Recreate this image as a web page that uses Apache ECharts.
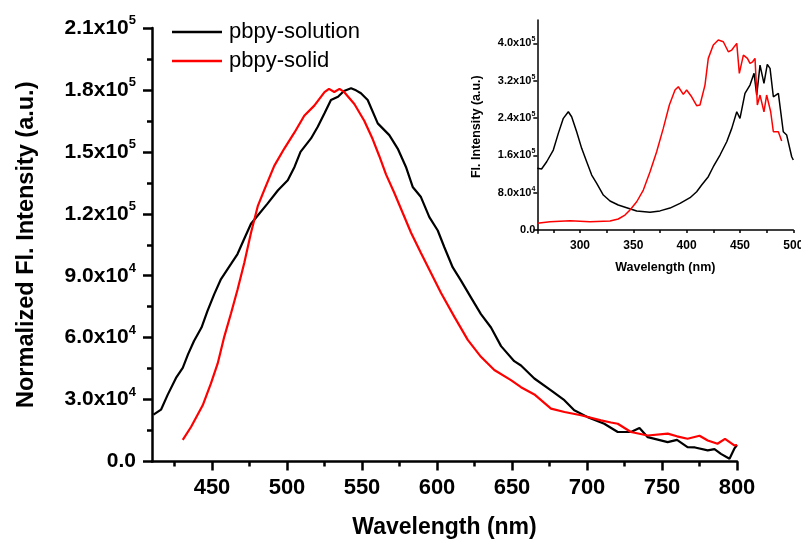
<!DOCTYPE html>
<html>
<head>
<meta charset="utf-8">
<script src="https://cdn.jsdelivr.net/npm/echarts@6/dist/echarts.min.js"></script>
<style>
html,body{margin:0;padding:0;background:#fff;}
#chart{width:801px;height:539px;}
</style>
</head>
<body>
<div id="chart"></div>
<script>
// ---- Main chart data (wavelength nm, normalized Fl. intensity) ----
const solutionWl = [411,416,420.5,426,430.5,434,438,443,447,451.5,456,462.7,467,471.5,476,480.5,487,494,500.5,505,509,516,520.5,525,529.3,534,538,542.7,546,549.3,553.8,560.5,568.2,573.8,579.3,583.8,589.3,594.9,600.5,604.9,610.5,616,622.7,629.3,636,642.7,651.5,656,664.9,676,684.9,691.5,700.5,711.5,720.5,729.3,735,740.5,753.8,760,767,772,780.5,785,789.3,795,798.2,800];
const solutionFl = [22700,25100,32400,40500,45400,51900,58400,64900,73000,81100,88400,95700,100500,107900,115200,119200,124900,131400,136200,142700,150000,156500,162200,168700,175100,176700,179500,180800,179800,178400,175100,163800,158100,151600,142700,133000,128100,118400,111900,103800,94000,87600,79400,71400,64900,55900,48600,46500,40200,34500,29700,24800,21500,18300,14300,14300,16200,11800,9400,10500,7000,6800,5400,6000,3700,1300,6200,8000];

const solidWl = [430.5,436,443.8,449.3,453.8,458.2,462.7,467,471.5,476,480.5,485,491.5,498.2,505,511.5,518.2,525,528,531.5,535,538.2,544.9,551.5,557.1,561.5,566,571.5,577.1,582.7,589.3,596,602.7,611.5,620.5,629.3,638.2,649.3,656,664.9,676,685,696,709.3,716,720.5,729.3,740.5,753.8,760,767,775,780.5,787,792,798.2,800];
const solidFl = [10500,16700,27200,37800,47500,60500,71800,83200,96200,110800,123700,131800,143200,151600,159400,167500,172400,178900,180500,179000,180500,178900,173200,165100,156200,148000,139100,130200,120500,110800,101000,91300,81600,70200,58900,50700,44300,39400,36000,32500,25600,24000,22400,19900,18900,18300,14300,12600,13500,12200,11000,12500,10200,8600,11000,7800,8000];

// ---- Inset data (excitation spectra) ----
const insetSolutionWl = [260,264,268.8,275,279.7,284.4,289.1,292.2,296.9,301.6,306.3,311,315.7,321.9,328.2,335.9,343.8,353.2,365.7,375,384.4,393.8,403.2,409.4,414.1,420.3,425,431.3,437.6,442.3,447,450,454.7,459.4,463.2,465.7,468.8,472.5,475.6,478.2,481.3,486,490.6,493.8,498.5,500];
const insetSolutionFl = [132200,130700,146300,171400,207100,239300,253400,242700,210600,175000,146300,117800,100000,75000,62100,53600,47900,40700,37900,41000,47000,57100,69300,82100,96400,114300,135600,160700,189200,217800,253400,239300,292800,310600,335700,289200,353400,314200,354900,346400,285500,292800,210600,203500,157000,150000];

const insetSolidWl = [260,271.9,290.7,309.4,328.2,335.9,342.2,346.9,353.2,359.4,365.7,371.9,378.1,383.8,389.1,392.2,396.9,400,404.7,409.4,412.5,417.2,420.3,425,429.7,434.4,439.1,442.3,447,449.4,453.2,457,459.4,461.9,464.1,466.3,468.8,472.5,475,478.8,481.3,486,489.1];
const insetSolidFl = [14300,17800,20000,17800,19300,23600,32100,42800,60600,85700,124900,167700,217800,267800,299900,307000,290700,299900,285500,266300,267800,310600,367800,396300,407000,403400,382000,385600,399900,335700,374900,367800,357100,360500,367800,267800,289200,253400,289200,253400,210600,210600,190600];

// ---- Tick labels ----
const mainXLabels = [450,500,550,600,650,700,750,800];
const mainXMinor = [425,475,525,575,625,675,725,775];
const insetXLabels = [300,350,400,450,500];
const insetXTicks = [275,300,325,350,375,400,425,450,475,500];
const insetYLabels = [0,80000,160000,240000,320000,400000];

const FONT = "'Liberation Sans', Arial, sans-serif";
const zip = (a, b) => a.map((x, i) => [x, b[i]]);
function sci(v) {
  if (v === 0) return '0.0';
  const e = Math.floor(Math.log10(v) + 1e-9);
  const m = (v / Math.pow(10, e)).toFixed(1);
  return m + 'x10{s|' + e + '}';
}

const chart = echarts.init(document.getElementById('chart'), null, {renderer: 'canvas'});
chart.setOption({
  animation: false,
  backgroundColor: '#fff',
  textStyle: {fontFamily: FONT},
  legend: {
    data: [
      {name: 'pbpy-solution', icon: 'rect', itemStyle: {color: '#000'}},
      {name: 'pbpy-solid', icon: 'rect', itemStyle: {color: '#ff0000'}}
    ],
    orient: 'vertical',
    left: 167, top: 16,
    itemWidth: 50, itemHeight: 2.5, itemGap: 7,
    textStyle: {fontSize: 22, fontFamily: FONT, color: '#000', lineHeight: 21, padding: [0,0,0,2]}
  },
  grid: [
    {left: 152, right: 64, top: 28, bottom: 77.5, outerBoundsMode: 'none', containLabel: false},
    {left: 537.3, right: 7.7, top: 20, bottom: 305.7, outerBoundsMode: 'none', containLabel: false}
  ],
  xAxis: [
    {
      type: 'value', gridIndex: 0, min: 410, max: 800,
      name: 'Wavelength (nm)', nameLocation: 'middle', nameGap: 55,
      nameTextStyle: {fontSize: 23, fontWeight: 'bold', color: '#000', fontFamily: FONT},
      axisLine: {show: true, lineStyle: {color: '#000', width: 2.5}},
      axisTick: {show: true, length: 9, lineStyle: {color: '#000', width: 2.5}, customValues: mainXLabels},
      axisLabel: {customValues: mainXLabels, fontSize: 22, fontWeight: 'bold', color: '#000', margin: 15, fontFamily: FONT},
      splitLine: {show: false}
    },
    {
      type: 'value', gridIndex: 0, min: 410, max: 800, position: 'bottom',
      axisLine: {show: false},
      axisTick: {show: true, length: 5, lineStyle: {color: '#000', width: 2.5}, customValues: mainXMinor},
      axisLabel: {show: false},
      splitLine: {show: false}
    },
    {
      type: 'value', gridIndex: 1, min: 260, max: 500,
      name: 'Wavelength (nm)', nameLocation: 'middle', nameGap: 28,
      nameTextStyle: {fontSize: 12.5, fontWeight: 'bold', color: '#000', fontFamily: FONT},
      axisLine: {show: true, lineStyle: {color: '#000', width: 1.5}},
      axisTick: {show: true, length: 3, lineStyle: {color: '#000', width: 1.5}, customValues: insetXTicks},
      axisLabel: {customValues: insetXLabels, fontSize: 12, fontWeight: 'bold', color: '#000', margin: 6, fontFamily: FONT},
      splitLine: {show: false}
    }
  ],
  yAxis: [
    {
      type: 'value', gridIndex: 0, min: 0, max: 210000, interval: 30000,
      name: 'Normalized Fl. Intensity (a.u.)', nameLocation: 'middle', nameGap: 113,
      nameTextStyle: {fontSize: 23.5, fontWeight: 'bold', color: '#000', fontFamily: FONT},
      axisLine: {show: true, lineStyle: {color: '#000', width: 2.5}},
      axisTick: {show: true, length: 9, lineStyle: {color: '#000', width: 2.5}},
      minorTick: {show: true, splitNumber: 2, length: 5, lineStyle: {color: '#000', width: 2.5}},
      axisLabel: {
        formatter: sci, fontSize: 21, fontWeight: 'bold', color: '#000', margin: 16, lineHeight: 28, fontFamily: FONT,
        rich: {s: {fontSize: 13, fontWeight: 'bold', color: '#000', verticalAlign: 'top', lineHeight: 13, fontFamily: FONT}}
      },
      splitLine: {show: false}, minorSplitLine: {show: false}
    },
    {
      type: 'value', gridIndex: 1, min: -7000, max: 450000,
      name: 'Fl. Intensity (a.u.)', nameLocation: 'middle', nameGap: 54,
      nameTextStyle: {fontSize: 12.5, fontWeight: 'bold', color: '#000', fontFamily: FONT},
      axisLine: {show: true, lineStyle: {color: '#000', width: 1.5}},
      axisTick: {show: true, length: 4, lineStyle: {color: '#000', width: 1.5}, customValues: insetYLabels},
      axisLabel: {
        customValues: insetYLabels, formatter: sci, fontSize: 11, fontWeight: 'bold', color: '#000', margin: 2, lineHeight: 15, fontFamily: FONT,
        rich: {s: {fontSize: 7, fontWeight: 'bold', color: '#000', verticalAlign: 'top', lineHeight: 7, fontFamily: FONT}}
      },
      splitLine: {show: false}
    }
  ],
  series: [
    {name: 'pbpy-solution', type: 'line', xAxisIndex: 0, yAxisIndex: 0, data: zip(solutionWl, solutionFl),
     symbol: 'none', showSymbol: false, lineStyle: {color: '#000', width: 2.2}, itemStyle: {color: '#000'}},
    {name: 'pbpy-solid', type: 'line', xAxisIndex: 0, yAxisIndex: 0, data: zip(solidWl, solidFl),
     symbol: 'none', showSymbol: false, lineStyle: {color: '#ff0000', width: 2.2}, itemStyle: {color: '#ff0000'}},
    {name: 'inset-solution', type: 'line', xAxisIndex: 2, yAxisIndex: 1, data: zip(insetSolutionWl, insetSolutionFl),
     symbol: 'none', showSymbol: false, lineStyle: {color: '#000', width: 1.5}, itemStyle: {color: '#000'}},
    {name: 'inset-solid', type: 'line', xAxisIndex: 2, yAxisIndex: 1, data: zip(insetSolidWl, insetSolidFl),
     symbol: 'none', showSymbol: false, lineStyle: {color: '#ff0000', width: 1.5}, itemStyle: {color: '#ff0000'}}
  ]
});
</script>
</body>
</html>
